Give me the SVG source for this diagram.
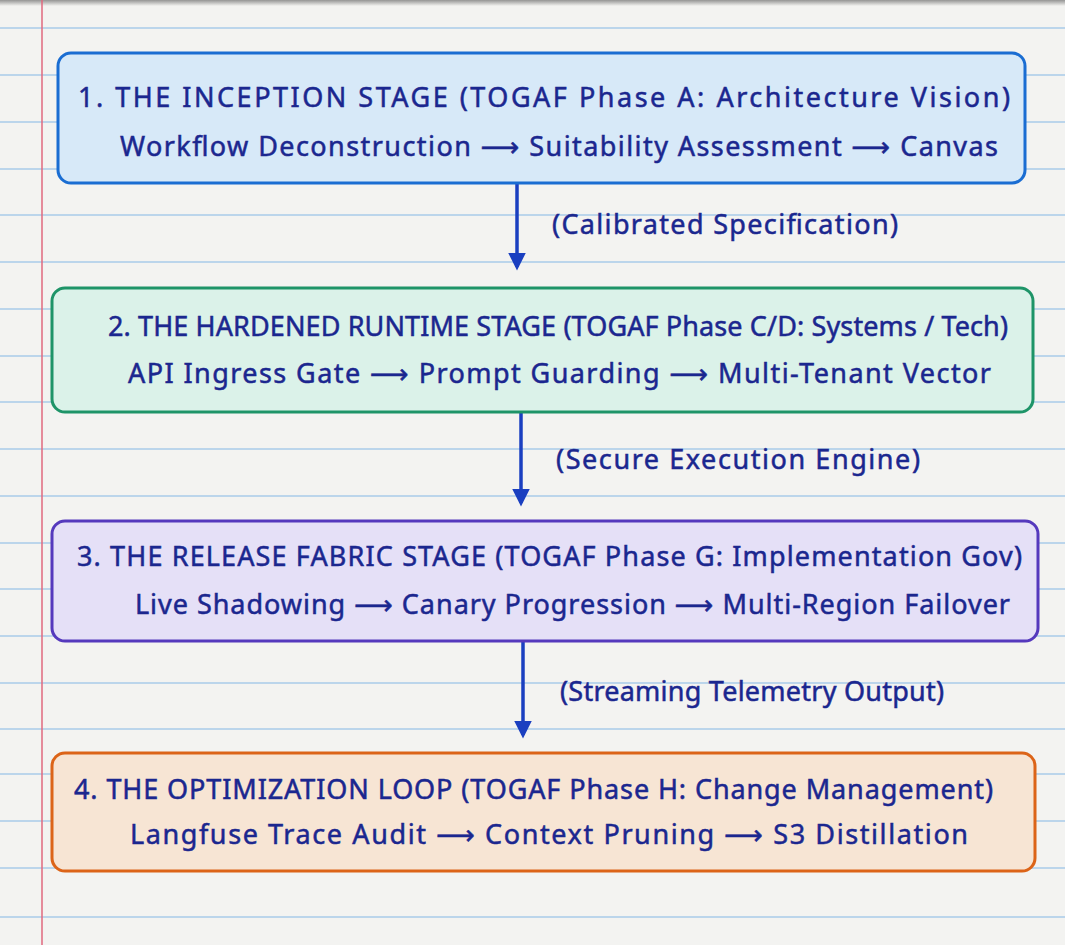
<svg xmlns="http://www.w3.org/2000/svg" width="1065" height="945" viewBox="0 0 1065 945">
<defs>
<style>
.t,.s,.l{font-family:"Noto Sans","DejaVu Sans","Liberation Sans",sans-serif;fill:#1b278f;stroke:#1b278f;stroke-width:0.5;font-size:27px}
.rule{stroke:#a8cbe8;stroke-width:1.5}
.conn{stroke:#1a3fc0;stroke-width:3.5;fill:none}
</style>
<marker id="ah" viewBox="0 0 10 10" refX="8" refY="5" markerWidth="5" markerHeight="6" markerUnits="strokeWidth" orient="auto">
<path d="M0,0 L10,5 L0,10 Z" fill="#1a3fc0"/>
</marker>
<linearGradient id="topsh" x1="0" y1="0" x2="0" y2="1">
<stop offset="0" stop-color="#555" stop-opacity="0.6"/>
<stop offset="1" stop-color="#555" stop-opacity="0"/>
</linearGradient>
</defs>
<rect width="1065" height="945" fill="#f3f3f1"/>
<rect width="1065" height="6" fill="url(#topsh)"/>
<g id="paper">
<line class="rule" x1="0" y1="28" x2="1065" y2="28"/>
<line class="rule" x1="0" y1="75" x2="1065" y2="75"/>
<line class="rule" x1="0" y1="122" x2="1065" y2="122"/>
<line class="rule" x1="0" y1="169" x2="1065" y2="169"/>
<line class="rule" x1="0" y1="215" x2="1065" y2="215"/>
<line class="rule" x1="0" y1="262" x2="1065" y2="262"/>
<line class="rule" x1="0" y1="309" x2="1065" y2="309"/>
<line class="rule" x1="0" y1="356" x2="1065" y2="356"/>
<line class="rule" x1="0" y1="402" x2="1065" y2="402"/>
<line class="rule" x1="0" y1="449" x2="1065" y2="449"/>
<line class="rule" x1="0" y1="496" x2="1065" y2="496"/>
<line class="rule" x1="0" y1="543" x2="1065" y2="543"/>
<line class="rule" x1="0" y1="589" x2="1065" y2="589"/>
<line class="rule" x1="0" y1="636" x2="1065" y2="636"/>
<line class="rule" x1="0" y1="683" x2="1065" y2="683"/>
<line class="rule" x1="0" y1="729" x2="1065" y2="729"/>
<line class="rule" x1="0" y1="774" x2="1065" y2="774"/>
<line class="rule" x1="0" y1="821" x2="1065" y2="821"/>
<line class="rule" x1="0" y1="868" x2="1065" y2="868"/>
<line class="rule" x1="0" y1="917" x2="1065" y2="917"/>
<line x1="42" y1="0" x2="42" y2="945" stroke="#e0697e" stroke-width="1.5"/>
</g>
<g id="connectors">
<line class="conn" x1="517" y1="184" x2="517" y2="267" marker-end="url(#ah)"/>
<line class="conn" x1="521" y1="413" x2="521" y2="503" marker-end="url(#ah)"/>
<line class="conn" x1="523" y1="641" x2="523" y2="735" marker-end="url(#ah)"/>
<text class="l" x="552" y="234" textLength="346" lengthAdjust="spacing">(Calibrated Specification)</text>
<text class="l" x="556" y="469" textLength="364" lengthAdjust="spacing">(Secure Execution Engine)</text>
<text class="l" x="560" y="701" textLength="384" lengthAdjust="spacing">(Streaming Telemetry Output)</text>
</g>
<g id="node1">
<rect x="58" y="53" width="967" height="130" rx="13" fill="#d7e9f8" stroke="#1a6dd2" stroke-width="3"/>
<text class="t" x="78" y="107" textLength="932" lengthAdjust="spacing">1. THE INCEPTION STAGE (TOGAF Phase A: Architecture Vision)</text>
<text class="s" x="120" y="156" textLength="878" lengthAdjust="spacing">Workflow Deconstruction ⟶ Suitability Assessment ⟶ Canvas</text>
</g>
<g id="node2">
<rect x="52" y="288" width="981" height="124" rx="13" fill="#dbf2e9" stroke="#1e9468" stroke-width="3"/>
<text class="t" x="108" y="336" textLength="900" lengthAdjust="spacing">2. THE HARDENED RUNTIME STAGE (TOGAF Phase C/D: Systems / Tech)</text>
<text class="s" x="128" y="383" textLength="863" lengthAdjust="spacing">API Ingress Gate ⟶ Prompt Guarding ⟶ Multi-Tenant Vector</text>
</g>
<g id="node3">
<rect x="52" y="521" width="986" height="120" rx="13" fill="#e5e0f7" stroke="#5539bd" stroke-width="3"/>
<text class="t" x="77" y="566" textLength="945" lengthAdjust="spacing">3. THE RELEASE FABRIC STAGE (TOGAF Phase G: Implementation Gov)</text>
<text class="s" x="135" y="614" textLength="875" lengthAdjust="spacing">Live Shadowing ⟶ Canary Progression ⟶ Multi-Region Failover</text>
</g>
<g id="node4">
<rect x="52" y="753" width="983" height="118" rx="13" fill="#f7e5d4" stroke="#dc6418" stroke-width="3"/>
<text class="t" x="74" y="799" textLength="919" lengthAdjust="spacing">4. THE OPTIMIZATION LOOP (TOGAF Phase H: Change Management)</text>
<text class="s" x="130" y="844" textLength="838" lengthAdjust="spacing">Langfuse Trace Audit ⟶ Context Pruning ⟶ S3 Distillation</text>
</g>
</svg>
